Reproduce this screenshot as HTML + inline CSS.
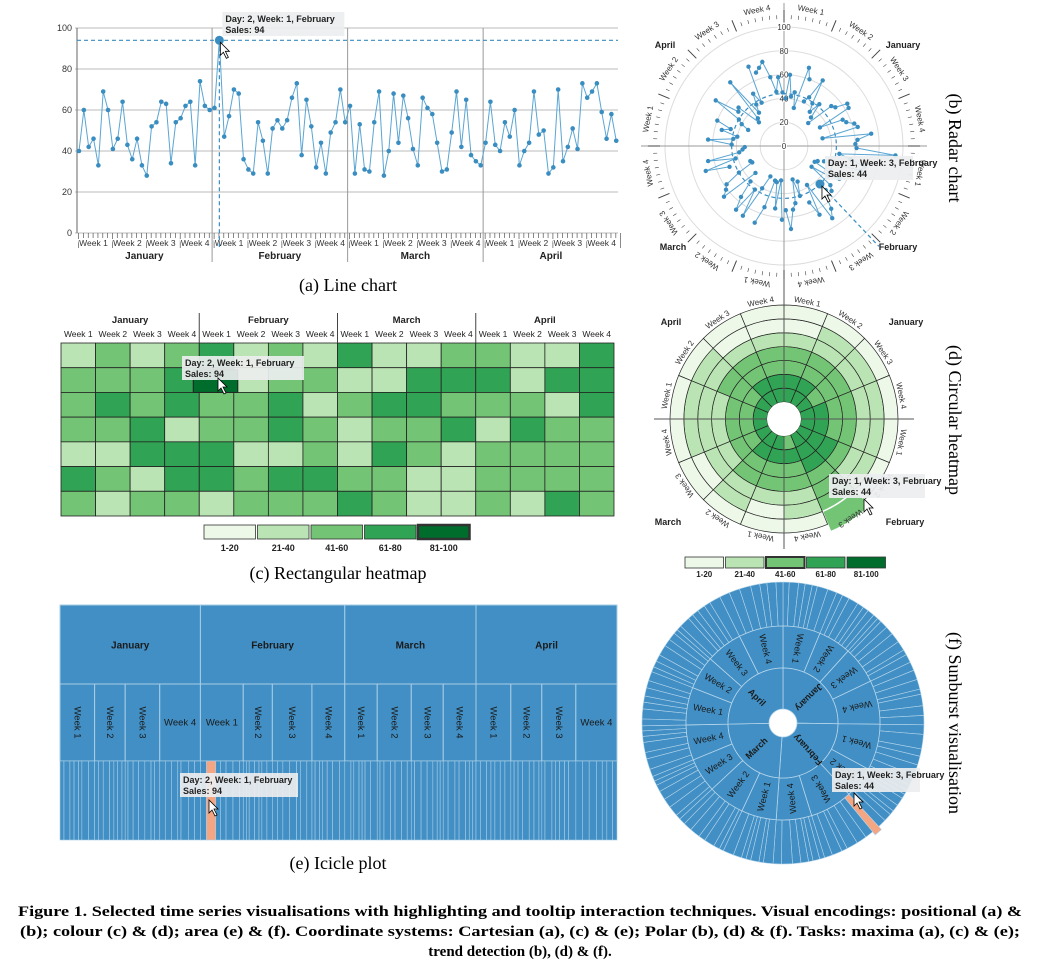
<!DOCTYPE html>
<html><head><meta charset="utf-8">
<style>
html,body{margin:0;padding:0;background:#fff;}
svg{display:block;}
text{font-family:"Liberation Sans",sans-serif;}
.serif{font-family:"Liberation Serif",serif;}
</style></head>
<body>
<svg id="fig" width="1042" height="971" viewBox="0 0 1042 971" xmlns="http://www.w3.org/2000/svg">
<g id="gLine"></g>
<g id="gRadar"></g>
<g id="gHeat"></g>
<g id="gCirc"></g>
<g id="gIcicle"></g>
<g id="gSun"></g>
<text class="serif" x="348" y="291" font-size="18" text-anchor="middle">(a) Line chart</text>
<text class="serif" x="338" y="579" font-size="18" text-anchor="middle">(c) Rectangular heatmap</text>
<text class="serif" x="338" y="869" font-size="18" text-anchor="middle">(e) Icicle plot</text>
<text class="serif" font-size="18" transform="translate(949,148) rotate(90)" text-anchor="middle">(b) Radar chart</text>
<text class="serif" font-size="18" transform="translate(949,420) rotate(90)" text-anchor="middle">(d) Circular heatmap</text>
<text class="serif" font-size="18" transform="translate(949,723) rotate(90)" text-anchor="middle">(f) Sunburst visualisation</text>
<text class="serif" x="520" y="916" font-size="15" font-weight="bold" text-anchor="middle" textLength="1004" lengthAdjust="spacingAndGlyphs">Figure 1. Selected time series visualisations with highlighting and tooltip interaction techniques. Visual encodings: positional (a) &amp;</text>
<text class="serif" x="520" y="936" font-size="15" font-weight="bold" text-anchor="middle" textLength="1000" lengthAdjust="spacingAndGlyphs">(b); colour (c) &amp; (d); area (e) &amp; (f). Coordinate systems: Cartesian (a), (c) &amp; (e); Polar (b), (d) &amp; (f). Tasks: maxima (a), (c) &amp; (e);</text>
<text class="serif" x="520" y="956" font-size="15" font-weight="bold" text-anchor="middle">trend detection (b), (d) &amp; (f).</text>
</svg>
<script>
const months = ["January","February","March","April"];
const weeks = ["Week 1","Week 2","Week 3","Week 4"];
const janSales = [40,60,42,46,33,69,60, 41,46,64,43,36,46,33, 28,52,54,64,63,34,54, 56,62,64,33,74,62,60];
const febSales = [61,94,47,57,70,68,36, 31,29,54,45,29,51,55, 51,55,66,73,38,65,52, 32,44,29,49,54,70,54];
const marSales = [62,29,53,31,30,54,69, 28,40,68,44,67,56,41, 33,66,61,58,44,30,31, 49,69,42,65,38,35,33];
const aprSales = [44,64,43,40,54,47,60, 33,40,44,69,48,50,29, 32,70,35,42,51,41,73, 66,69,73,59,46,58,45];
const yTicks = [0,20,40,60,80,100];
const legendLabels = ["1-20","21-40","41-60","61-80","81-100"];
const circBins = [
 [3,3,2,2,1,0,0],[3,3,2,2,1,1,0],[3,2,2,2,1,1,0],[3,3,2,2,1,1,0],
 [3,3,2,2,1,1,0],[3,3,3,2,1,1,0],[3,3,3,2,2,2,2],[2,3,2,2,1,1,0],
 [3,3,2,2,1,0,0],[3,3,2,2,1,1,0],[3,2,2,1,1,0,0],[3,2,2,1,1,1,0],
 [3,2,2,1,1,1,0],[3,2,2,2,1,1,0],[3,3,2,2,1,0,0],[3,3,2,2,1,0,0]];
const hlLineIdx = 29;   // Feb, week1, day2
const hlPolarIdx = 42;  // Feb, week3, day1
const polarHighlightSales = 44;

const sales = janSales.concat(febSales, marSales, aprSales);
const N = sales.length;
const greens = ["#edf8e9","#bae4b3","#74c476","#31a354","#006d2c"];
const blue = "#418fc4", lblue = "#3a8dc0";
const NS = "http://www.w3.org/2000/svg";
function mk(tag, attrs, parent){const e=document.createElementNS(NS,tag);for(const k in attrs)e.setAttribute(k,attrs[k]);if(parent)parent.appendChild(e);return e;}
function pt(cx,cy,r,a){const t=a*Math.PI/180;return [cx+r*Math.sin(t),cy-r*Math.cos(t)];}
function arcPath(cx,cy,r0,r1,a0,a1){
  const p0=pt(cx,cy,r1,a0),p1=pt(cx,cy,r1,a1),p2=pt(cx,cy,r0,a1),p3=pt(cx,cy,r0,a0);
  const lg=(a1-a0)>180?1:0;
  return `M${p0}A${r1},${r1} 0 ${lg} 1 ${p1}L${p2}A${r0},${r0} 0 ${lg} 0 ${p3}Z`;
}
function bin(v){return Math.min(4,Math.max(0,Math.ceil(v/20)-1));}
function tooltip(g,x,y,w,l1,l2,name){
  const t=mk('g',{},g);
  
  
  mk('rect',{x:x,y:y,width:w,height:24,fill:"#eceeef","fill-opacity":0.92},t);
  const a=mk('text',{x:x+3,y:y+10,"font-size":9,"font-weight":"bold",fill:"#222"},t);a.textContent=l1;
  const b=mk('text',{x:x+3,y:y+21,"font-size":9,"font-weight":"bold",fill:"#222"},t);b.textContent=l2;
}
function cursor(g,x,y){
  const c=mk('path',{d:`M${x},${y}l0,13l3,-3l3,6l2,-1l-3,-6l4,0z`,fill:"#fff",stroke:"#000","stroke-width":0.8},g);
  
  
}

/* ---------- (a) Line chart ---------- */
(function(){
  const g=document.getElementById('gLine');
  const x0=79, dx=4.84, yB=233, yT=28;
  const X=i=>x0+i*dx, Y=v=>yB-(yB-yT)*v/100;
  yTicks.forEach(t=>{
    const l=mk('line',{x1:75,x2:618,y1:Y(t),y2:Y(t),stroke:"#bbb","stroke-width":1},g);
    
    
    const tx=mk('text',{x:72,y:Y(t)+3,"font-size":9,"text-anchor":"end",fill:"#333"},g);tx.textContent=t;
    
    
  });
  const ax=mk('line',{x1:77,x2:77,y1:yT,y2:yB,stroke:"#666"},g);
  
  
  for(let m=1;m<4;m++){
    const xb=X(m*28)-dx/2;
    const l=mk('line',{x1:xb,x2:xb,y1:yT,y2:262,stroke:"#999"},g);
    
    
  }
  for(let i=0;i<=N;i++){
    const xx=x0-dx/2+i*dx+2;
    mk('line',{x1:xx,x2:xx,y1:yB,y2:yB+(i%7==0?15:5),stroke:"#555","stroke-width":0.7},g);
  }
  for(let m=0;m<4;m++){
    for(let w=0;w<4;w++){
      const t=mk('text',{x:X(m*28+w*7+3),y:yB+13,"font-size":8.5,"text-anchor":"middle",fill:"#333",stroke:"#fff","stroke-width":2,"paint-order":"stroke"},g);t.textContent=weeks[w];
      
      
    }
    const mt=mk('text',{x:X(m*28+13.5),y:yB+26,"font-size":10,"font-weight":"bold","text-anchor":"middle",fill:"#222"},g);mt.textContent=months[m];
    
    
  }
  const hv=sales[hlLineIdx];
  const hl=mk('line',{x1:77,x2:618,y1:Y(hv),y2:Y(hv),stroke:lblue,"stroke-dasharray":"4,3","stroke-width":1.2},g);
  
  
  const vl=mk('line',{x1:X(hlLineIdx),x2:X(hlLineIdx),y1:Y(hv),y2:yB+14,stroke:lblue,"stroke-dasharray":"4,3","stroke-width":1.2},g);
  
  
  const p=mk('polyline',{points:sales.map((v,i)=>X(i)+','+Y(v)).join(' '),fill:"none",stroke:"#5aa5d3","stroke-width":1},g);
  
  
  sales.forEach((v,i)=>{
    const c=mk('circle',{cx:X(i),cy:Y(v),r:i==hlLineIdx?4.5:2.3,fill:lblue},g);
    
    
  });
  tooltip(g,X(hlLineIdx)+3,12,122,"Day: 2, Week: 1, February","Sales: "+hv,'line-tooltip');
  cursor(g,X(hlLineIdx)+1,Y(hv)+2);
})();

/* ---------- (b) Radar ---------- */
(function(){
  const g=document.getElementById('gRadar');
  const cx=784, cy=146, R=119;
  [20,40,60,80,100].forEach(t=>{
    const c=mk('circle',{cx:cx,cy:cy,r:R*t/100,fill:"none",stroke:"#ddd"},g);
    
    
  });
  const a1=mk('line',{x1:cx-143,x2:cx+143,y1:cy,y2:cy,stroke:"#999"},g);
  
  
  const a2=mk('line',{x1:cx,x2:cx,y1:cy-143,y2:cy+143,stroke:"#999"},g);
  
  
  yTicks.forEach(t=>{
    const tx=mk('text',{x:cx,y:cy-R*t/100+3,"font-size":8,"text-anchor":"middle",fill:"#333",stroke:"#fff","stroke-width":2,"paint-order":"stroke"},g);tx.textContent=t;
    
    
  });
  for(let i=0;i<N;i++){
    const a=i*360/N, big=i%7==0;
    const q0=pt(cx,cy,big?124:127,a), q1=pt(cx,cy,big?136:131,a);
    mk('line',{x1:q0[0],y1:q0[1],x2:q1[0],y2:q1[1],stroke:"#444","stroke-width":big?1:0.6},g);
  }
  for(let k=0;k<16;k++){
    const a=(k+0.5)*22.5, q=pt(cx,cy,136,a);
    const t=mk('text',{x:0,y:0,"font-size":8,"text-anchor":"middle",fill:"#333",transform:`translate(${q[0]},${q[1]}) rotate(${a})`},g);t.textContent=weeks[k%4];
    
    
  }
  [[903,48,0],[898,250,1],[673,250,2],[665,48,3]].forEach(d=>{
    const t=mk('text',{x:d[0],y:d[1],"font-size":9,"font-weight":"bold","text-anchor":"middle",fill:"#222"},g);t.textContent=months[d[2]];
    
    
  });
  const hv=polarHighlightSales;
  const dc=mk('circle',{cx:cx,cy:cy,r:R*hv/100,fill:"none",stroke:lblue,"stroke-dasharray":"4,3","stroke-width":1.2},g);
  
  
  const ha=(hlPolarIdx+0.5)*360/N, e0=pt(cx,cy,R*hv/100,ha), e1=pt(cx,cy,138,ha);
  const hl=mk('line',{x1:e0[0],y1:e0[1],x2:e1[0],y2:e1[1],stroke:lblue,"stroke-dasharray":"4,3","stroke-width":1.2},g);
  
  
  for(let w=0;w<16;w++){
    const pts=[];
    for(let d=0;d<7;d++){const i=w*7+d;pts.push(pt(cx,cy,R*sales[i]/100,(i+0.5)*360/N));}
    const pl=mk('polyline',{points:pts.map(p=>p.join(',')).join(' '),fill:"none",stroke:"#5aa5d3","stroke-width":1},g);
    
    
  }
  sales.forEach((v,i)=>{
    const p=pt(cx,cy,R*v/100,(i+0.5)*360/N);
    const c=mk('circle',{cx:p[0],cy:p[1],r:2.2,fill:lblue},g);
    
    
  });
  const hc=mk('circle',{cx:e0[0],cy:e0[1],r:4.5,fill:lblue},g);
  
  
  tooltip(g,825,156,88,"Day: 1, Week: 3, February","Sales: "+hv,'radar-tooltip');
  cursor(g,e0[0]+2,e0[1]+2);
})();

/* ---------- (c) Rectangular heatmap ---------- */
(function(){
  const g=document.getElementById('gHeat');
  const x0=61, cw=(614-61)/16, y0=343, rh=(516-343)/7;
  for(let c=0;c<16;c++){
    for(let d=0;d<7;d++){
      const v=sales[c*7+d];
      const r=mk('rect',{x:x0+c*cw,y:y0+d*rh,width:cw,height:rh,fill:greens[bin(v)],stroke:"#222","stroke-width":0.8},g);
      
      
    }
    const t=mk('text',{x:x0+(c+0.5)*cw,y:337,"font-size":8.5,"text-anchor":"middle",fill:"#222"},g);t.textContent=weeks[c%4];
    
    
  }
  for(let m=0;m<4;m++){
    const t=mk('text',{x:x0+(m*4+2)*cw,y:323,"font-size":9.5,"font-weight":"bold","text-anchor":"middle",fill:"#222"},g);t.textContent=months[m];
    
    
    if(m>0){const l=mk('line',{x1:x0+m*4*cw,x2:x0+m*4*cw,y1:313,y2:343,stroke:"#444"},g);
      
      }
  }
  const hc=Math.floor(hlLineIdx/7), hd=hlLineIdx%7;
  const hr=mk('rect',{x:x0+hc*cw-6,y:y0+hd*rh+2,width:cw+10,height:rh-2,fill:greens[4],stroke:"#222"},g);
  
  
  tooltip(g,182,356,122,"Day: 2, Week: 1, February","Sales: "+sales[hlLineIdx],'heatmap-tooltip');
  cursor(g,218,378);
  const lw=53.5;
  legendLabels.forEach((s,i)=>{
    const r=mk('rect',{x:204+i*lw,y:525,width:lw-2,height:14,fill:greens[i],stroke:"#333","stroke-width":i==4?2.5:0.8},g);
    
    
    const t=mk('text',{x:204+i*lw+(lw-2)/2,y:551,"font-size":9,"font-weight":"bold","text-anchor":"middle",fill:"#222"},g);t.textContent=s;
    
    
  });
})();

/* ---------- (d) Circular heatmap ---------- */
(function(){
  const g=document.getElementById('gCirc');
  const cx=784, cy=419, r0=17, rw=(114-17)/7;
  for(let s=0;s<16;s++){
    for(let k=0;k<7;k++){
      const hl=(s==6&&k==6);
      const p=mk('path',{d:arcPath(cx,cy,r0+k*rw,r0+(k+1)*rw+(hl?8:0),s*22.5,(s+1)*22.5),fill:greens[circBins[s][k]],stroke:hl?"#fff":"#222","stroke-width":hl?1.5:0.7},g);
      
      
    }
    const a=(s+0.5)*22.5, q=pt(cx,cy,117,a);
    const t=mk('text',{x:0,y:0,"font-size":8,"text-anchor":"middle",fill:"#333",transform:`translate(${q[0]},${q[1]}) rotate(${a})`},g);t.textContent=weeks[s%4];
    
    
  }
  const l1=mk('line',{x1:cx-130,x2:cx+130,y1:cy,y2:cy,stroke:"#555"},g);
  
  
  const l2=mk('line',{x1:cx,x2:cx,y1:cy-140,y2:cy+130,stroke:"#555"},g);
  
  
  const hole=mk('circle',{cx:cx,cy:cy,r:r0,fill:"#fff"},g);
  
  
  [[906,325,0],[905,525,1],[668,525,2],[671,325,3]].forEach(d=>{
    const t=mk('text',{x:d[0],y:d[1],"font-size":9,"font-weight":"bold","text-anchor":"middle",fill:"#222"},g);t.textContent=months[d[2]];
    
    
  });
  tooltip(g,829,474,96,"Day: 1, Week: 3, February","Sales: "+polarHighlightSales,'circular-tooltip');
  cursor(g,864,499);
  const lw=40.5;
  legendLabels.forEach((s,i)=>{
    const r=mk('rect',{x:685+i*lw,y:557,width:lw-2,height:11,fill:greens[i],stroke:"#333","stroke-width":i==2?2:0.8},g);
    
    
    const t=mk('text',{x:685+i*lw+(lw-2)/2,y:577,"font-size":8,"font-weight":"bold","text-anchor":"middle",fill:"#222"},g);t.textContent=s;
    
    
  });
})();

/* ---------- (e) Icicle ---------- */
(function(){
  const g=document.getElementById('gIcicle');
  const x0=60, W=557, ys=[605,684,761,840];
  const total=sales.reduce((a,b)=>a+b,0);
  const X=c=>x0+W*c/total;
  let cum=0;
  const cums=[0];sales.forEach(v=>{cum+=v;cums.push(cum);});
  const bg=mk('rect',{x:x0,y:ys[0],width:W,height:ys[3]-ys[0],fill:blue},g);
  
  
  for(let m=0;m<4;m++){
    const a=X(cums[m*28]), b=X(cums[m*28+28]);
    const r=mk('rect',{x:a,y:ys[0],width:b-a,height:ys[1]-ys[0],fill:blue,stroke:"#a9cde6","stroke-width":1},g);
    
    
    const t=mk('text',{x:(a+b)/2,y:(ys[0]+ys[1])/2+4,"font-size":10,"font-weight":"bold","text-anchor":"middle",fill:"#1a1a1a"},g);t.textContent=months[m];
    
    
  }
  for(let w=0;w<16;w++){
    const a=X(cums[w*7]), b=X(cums[w*7+7]);
    const r=mk('rect',{x:a,y:ys[1],width:b-a,height:ys[2]-ys[1],fill:blue,stroke:"#a9cde6","stroke-width":1},g);
    
    
    const cxm=(a+b)/2, cym=(ys[1]+ys[2])/2;
    const wide=(b-a)>40;
    const t=mk('text',{x:0,y:0,"font-size":9.5,"text-anchor":"middle",fill:"#1a1a1a",transform:wide?`translate(${cxm},${cym+3})`:`translate(${cxm-3},${cym}) rotate(90)`},g);t.textContent=weeks[w%4];
    
    
  }
  sales.forEach((v,i)=>{
    const a=X(cums[i]), b=X(cums[i+1]);
    const r=mk('rect',{x:a,y:ys[2],width:b-a,height:ys[3]-ys[2],fill:i==hlLineIdx?"#f4a582":blue,stroke:"#a9cde6","stroke-width":0.6},g);
    
    
  });
  tooltip(g,180,773,118,"Day: 2, Week: 1, February","Sales: "+sales[hlLineIdx],'icicle-tooltip');
  cursor(g,209,800);
})();

/* ---------- (f) Sunburst ---------- */
(function(){
  const g=document.getElementById('gSun');
  const cx=783, cy=723, R=[14,55,97,141];
  const total=sales.reduce((a,b)=>a+b,0);
  const A=c=>360*c/total;
  let cum=0;const cums=[0];sales.forEach(v=>{cum+=v;cums.push(cum);});
  sales.forEach((v,i)=>{
    const p=mk('path',{d:arcPath(cx,cy,R[2],R[3]+(i==hlPolarIdx?4:0),A(cums[i]),A(cums[i+1])),fill:i==hlPolarIdx?"#f4a582":blue,stroke:"#b5d5eb","stroke-width":0.6},g);
    
    
  });
  for(let w=0;w<16;w++){
    const a0=A(cums[w*7]), a1=A(cums[w*7+7]);
    const p=mk('path',{d:arcPath(cx,cy,R[1],R[2],a0,a1),fill:blue,stroke:"#b5d5eb","stroke-width":0.8},g);
    
    
    const am=(a0+a1)/2, q=pt(cx,cy,(R[1]+R[2])/2,am);
    const t=mk('text',{x:0,y:3,"font-size":9,"text-anchor":"middle",fill:"#1a1a1a",transform:`translate(${q[0]},${q[1]}) rotate(${am+90})`},g);t.textContent=weeks[w%4];
    
    
  }
  for(let m=0;m<4;m++){
    const a0=A(cums[m*28]), a1=A(cums[m*28+28]);
    const p=mk('path',{d:arcPath(cx,cy,R[0],R[1],a0,a1),fill:blue,stroke:"#b5d5eb","stroke-width":0.8},g);
    
    
    const am=(a0+a1)/2, q=pt(cx,cy,(R[0]+R[1])/2+2,am);
    const t=mk('text',{x:0,y:3,"font-size":9,"font-weight":"bold","text-anchor":"middle",fill:"#1a1a1a",transform:`translate(${q[0]},${q[1]}) rotate(${am+90})`},g);t.textContent=months[m];
    
    
  }
  tooltip(g,832,768,88,"Day: 1, Week: 3, February","Sales: "+polarHighlightSales,'sunburst-tooltip');
  cursor(g,854,793);
})();
</script>
</body></html>
